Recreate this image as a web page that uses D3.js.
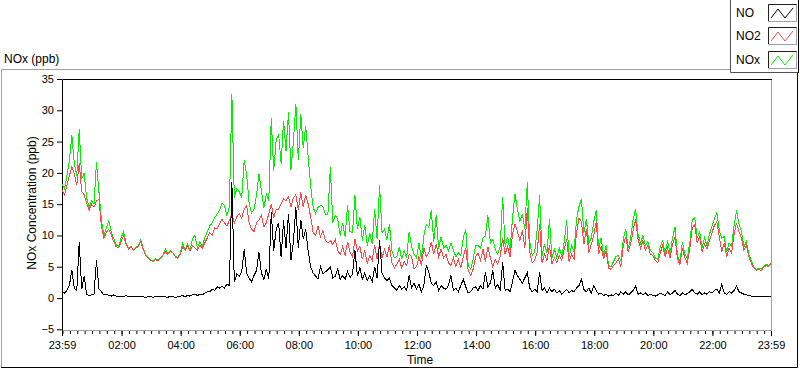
<!DOCTYPE html>
<html>
<head>
<meta charset="utf-8">
<script src="https://cdn.jsdelivr.net/npm/d3@7"></script>
<style>
  body { margin: 0; background: #fff; }
  svg { display: block; font-family: "Liberation Sans", Arial, sans-serif; }
</style>
</head>
<body>
<div id="chart"></div>
<script>
// 5-minute samples, 23:59 (previous day) to 23:59
const noValues = [
  1.0,0.8,1.2,2.0,4.5,1.5,1.2,9.0,1.4,3.5,0.6,0.4,
  0.5,0.6,6.0,1.5,1.0,0.5,0.6,0.4,0.3,0.5,0.3,0.2,
  0.3,0.2,0.4,0.2,0.3,0.3,0.2,0.3,0.3,0.2,0.1,0.2,
  0.2,0.1,0.3,0.2,0.2,0.3,0.2,0.1,0.3,0.2,0.1,0.2,
  0.3,0.4,0.2,0.4,0.3,0.5,0.6,0.4,0.6,0.5,0.8,1.0,
  1.0,1.4,1.2,1.8,1.6,1.9,1.6,2.2,2.0,18.5,2.5,3.8,
  3.5,4.2,7.8,4.0,3.2,2.6,3.6,4.4,7.3,4.0,3.0,4.6,
  3.0,13.7,7.5,11.0,12.0,6.5,12.4,8.0,13.5,6.0,9.0,14.5,
  8.0,12.5,9.5,11.0,7.5,5.0,4.0,3.5,3.0,5.0,3.8,4.2,
  4.5,5.0,3.2,3.5,4.6,3.0,3.6,3.0,4.2,3.3,3.8,7.6,
  3.5,4.8,3.0,4.0,2.8,3.6,2.6,5.0,3.2,9.2,4.0,3.2,
  2.8,3.2,2.0,1.6,1.2,2.0,1.4,1.8,1.2,3.6,1.6,2.4,
  1.4,2.2,1.0,2.0,5.2,4.1,2.4,2.0,2.6,1.2,2.0,1.6,
  1.4,2.0,3.6,1.2,1.6,1.0,2.0,3.0,1.8,0.8,1.0,1.6,
  1.8,1.2,2.0,1.4,4.1,1.8,2.4,4.4,1.6,2.2,1.2,5.7,
  1.2,1.4,1.0,2.6,4.4,3.6,3.0,2.4,3.2,4.0,1.6,1.0,
  1.4,1.0,4.1,1.2,1.6,0.8,1.6,1.0,1.4,0.8,1.2,0.6,
  1.0,1.4,0.8,1.2,1.0,1.6,2.0,3.0,1.4,1.0,1.6,0.8,
  1.9,1.2,0.6,0.8,0.4,0.6,0.3,0.5,0.4,0.8,0.4,1.0,
  0.6,1.0,0.5,0.8,1.2,1.9,0.6,0.8,0.5,0.8,0.4,0.6,
  0.4,0.3,0.5,0.8,0.6,0.4,1.0,0.5,0.8,1.2,0.6,0.4,
  0.8,0.5,0.7,1.0,1.4,0.8,0.6,1.0,0.5,0.8,0.6,1.0,
  0.8,1.2,1.4,0.8,2.2,0.8,0.6,1.0,0.8,1.2,1.9,1.0,
  0.8,0.6,0.5,0.4,0.3,0.2,0.3,0.2,0.3,0.2,0.3,0.2,
  0.3
];
const no2Values = [
  17.2,16.5,18.0,19.5,21.0,19.8,18.0,21.5,17.0,16.5,15.2,14.0,
  15.0,14.5,15.5,15.8,11.5,9.5,10.5,11.0,10.2,9.0,8.2,8.0,
  9.0,10.0,8.6,7.8,8.2,7.6,8.0,8.2,9.0,7.8,6.8,6.4,
  6.0,5.8,6.2,5.9,6.3,6.8,7.4,7.0,7.5,7.2,6.6,6.3,
  7.0,8.2,7.6,8.4,7.5,8.3,8.0,7.6,8.4,8.0,8.8,9.6,
  10.4,10.0,11.2,11.0,11.8,12.6,12.0,11.5,12.4,13.5,12.0,13.0,
  13.5,12.8,14.2,14.8,12.0,11.0,10.6,12.0,12.5,13.2,11.4,12.0,
  13.5,15.0,12.8,14.2,14.2,15.0,15.9,15.5,16.2,14.5,16.0,16.5,
  14.0,16.9,14.5,16.5,15.0,13.0,10.5,10.0,11.5,9.8,10.8,9.2,
  8.8,9.2,8.5,9.4,7.6,7.0,8.2,6.8,9.0,7.4,6.6,9.4,
  7.5,8.2,6.2,7.6,5.6,6.8,6.0,8.4,6.2,8.8,6.4,7.8,
  6.5,8.4,5.6,4.8,5.4,6.2,4.8,5.8,5.2,7.0,6.6,4.6,
  5.0,6.6,5.2,8.0,6.6,7.2,9.0,7.0,8.6,6.6,7.8,6.4,
  7.0,5.6,5.2,6.4,5.0,6.2,4.8,6.6,8.0,4.4,3.6,4.6,
  6.6,7.2,6.0,7.8,5.8,8.2,6.4,5.0,6.2,5.4,6.6,9.6,
  7.0,8.2,6.6,10.2,11.8,10.6,9.2,10.8,8.0,14.3,7.4,5.6,
  6.0,7.2,11.8,5.6,7.0,6.0,8.4,5.4,6.4,5.6,6.8,6.0,
  7.8,9.4,5.8,7.0,6.2,10.4,12.8,12.2,8.6,11.0,7.2,8.6,
  10.0,12.2,7.0,8.2,6.2,7.6,4.8,4.6,5.2,5.6,6.2,5.0,
  8.4,9.8,7.4,8.6,10.8,12.6,9.4,8.0,9.2,7.6,8.4,7.0,
  6.8,6.0,5.6,7.2,8.4,6.6,8.0,6.4,8.6,9.8,6.2,5.4,
  8.0,6.4,5.6,7.8,11.2,11.8,8.8,9.8,7.4,8.6,7.8,9.2,
  10.4,11.6,12.2,9.8,7.4,8.8,6.6,8.0,7.2,10.2,12.0,10.6,
  9.6,7.6,8.4,6.6,5.6,4.8,4.4,4.6,4.4,4.9,5.2,5.0,
  5.5
];
const noxValues = [
  18.2,17.5,19.5,22.0,26.0,21.5,19.5,27.0,19.0,20.0,16.0,14.5,
  15.5,15.0,21.7,17.0,12.5,10.0,11.2,12.4,10.5,9.5,8.5,8.2,
  9.6,10.6,8.8,7.9,8.3,7.7,8.1,8.3,9.3,7.9,6.9,6.5,
  6.1,5.9,6.3,6.0,6.4,6.9,7.8,7.1,7.6,7.3,6.7,6.4,
  7.1,8.7,7.7,8.6,7.6,9.5,10.0,8.0,9.0,8.3,9.6,10.6,
  11.5,12.0,12.8,13.4,14.0,15.2,14.8,13.2,14.6,32.6,16.0,17.5,
  17.0,16.0,22.0,19.8,15.2,13.6,14.2,16.4,19.8,17.2,14.4,16.6,
  15.5,28.7,20.3,25.2,26.2,21.5,28.3,23.5,29.7,20.5,25.0,31.0,
  22.0,29.4,24.0,27.5,22.5,18.0,14.5,13.5,14.5,14.8,14.6,13.4,
  13.3,20.9,12.0,13.2,12.6,10.0,12.0,9.8,14.8,10.6,10.4,16.4,
  11.0,13.0,9.2,11.6,8.4,10.4,8.6,14.2,9.4,18.0,10.4,11.0,
  9.3,11.8,7.6,6.4,6.6,8.2,6.2,7.6,6.4,10.6,8.2,7.0,
  6.4,8.8,6.2,10.0,11.8,11.3,14.0,9.0,13.2,7.8,9.8,8.0,
  8.4,7.6,8.8,7.6,6.6,7.2,6.8,9.6,11.0,5.2,4.6,6.2,
  8.4,8.4,8.0,9.6,9.9,13.2,8.8,9.4,7.8,7.0,8.2,16.1,
  8.2,9.8,7.6,12.8,16.6,14.2,12.2,13.4,11.0,18.5,9.0,6.8,
  7.4,10.8,16.4,6.8,8.6,7.2,12.6,6.4,7.8,6.4,8.0,6.6,
  9.0,12.4,6.6,8.4,7.4,12.6,14.6,15.8,10.4,12.6,8.8,9.6,
  12.2,14.0,7.8,9.6,6.8,8.4,5.2,5.0,5.8,6.6,6.8,6.0,
  9.4,11.0,8.0,9.6,12.6,14.2,10.2,8.8,10.0,8.4,9.0,7.6,
  7.2,6.4,6.2,8.2,9.2,7.0,9.2,7.0,9.6,11.3,6.8,5.8,
  8.9,7.0,6.4,8.8,12.4,12.9,9.6,10.6,8.0,9.6,8.4,10.2,
  11.4,12.6,13.7,10.8,9.6,9.8,7.4,8.8,8.2,11.6,14.0,11.8,
  10.6,8.2,9.0,7.0,6.0,5.0,4.6,4.8,4.6,5.0,5.4,5.2,
  5.6
];
const seriesNames = ["NO", "NO2", "NOx"];
const xTickLabels = ["23:59","02:00","04:00","06:00","08:00","10:00","12:00","14:00","16:00","18:00","20:00","22:00","23:59"];
const yTickValues = [-5, 0, 5, 10, 15, 20, 25, 30, 35];
const sampleMinutes = 5;

const colors = { NO: "#000000", NO2: "#ff4646", NOx: "#00f000" };

const W = 800, H = 369;
const plot = { left: 62, right: 771, top: 79, bottom: 329.3 };

const start = new Date(2000, 0, 1, 23, 59);
const end = new Date(2000, 0, 2, 23, 59);
const times = noValues.map((_, i) => new Date(start.getTime() + i * sampleMinutes * 60000));

const svg = d3.select("#chart").append("svg")
  .attr("width", W)
  .attr("height", H);

const x = d3.scaleTime().domain([start, end]).range([plot.left, plot.right]);
const y = d3.scaleLinear().domain([-5, 35]).range([plot.bottom, plot.top]);

// outer panel (sunken look)
svg.append("path").attr("d", `M1.5,367 V69.5 H797`).attr("fill", "none").attr("stroke", "#a0a0a0");
svg.append("path").attr("d", `M1,367.5 H797.5 V69`).attr("fill", "none").attr("stroke", "#000");

svg.append("text")
  .attr("x", 4).attr("y", 63)
  .attr("font-size", 12)
  .text("NOx (ppb)");

// plot frame
svg.append("path").attr("d", `M771.5,79 V330.5 H62`).attr("fill", "none").attr("stroke", "#a0a0a0");
svg.append("path").attr("d", `M62.5,331 V79.5 H772`).attr("fill", "none").attr("stroke", "#000");

// y axis
const yAxis = svg.append("g")
  .attr("transform", `translate(${plot.left},0)`)
  .call(d3.axisLeft(y).tickValues(yTickValues).tickSize(5).tickSizeOuter(0).tickPadding(3));
yAxis.select(".domain").remove();
yAxis.selectAll("text").attr("font-size", 11).attr("font-family", "Liberation Sans, Arial, sans-serif").attr("fill", "#000");

// x axis: minor ticks every 15 minutes, major labelled ticks
const parseTime = d3.timeParse("%H:%M");
const majorTimes = xTickLabels.map((s, i) => {
  const t = parseTime(s);
  return new Date(2000, 0, i === 0 ? 1 : 2, t.getHours(), t.getMinutes());
});
const minorTimes = d3.timeMinute.every(15).range(new Date(2000, 0, 2, 0, 0), end);

const xMinor = svg.append("g")
  .attr("transform", `translate(0,331)`)
  .call(d3.axisBottom(x).tickValues(minorTimes).tickSize(3).tickSizeOuter(0).tickFormat(""));
xMinor.select(".domain").remove();

const xAxis = svg.append("g")
  .attr("transform", `translate(0,331)`)
  .call(d3.axisBottom(x).tickValues(majorTimes).tickSize(5).tickSizeOuter(0).tickPadding(5)
    .tickFormat((d, i) => xTickLabels[i]));
xAxis.select(".domain").remove();
xAxis.selectAll("text").attr("font-size", 11).attr("font-family", "Liberation Sans, Arial, sans-serif").attr("fill", "#000");

svg.append("text")
  .attr("x", 420).attr("y", 364)
  .attr("text-anchor", "middle")
  .attr("font-size", 12)
  .text("Time");

svg.append("text")
  .attr("transform", "translate(32,203) rotate(-90)")
  .attr("text-anchor", "middle")
  .attr("dy", "0.35em")
  .attr("font-size", 12)
  .text("NOx Concentration (ppb)");

// series lines: NOx underneath, then NO2, NO on top
const line = d3.line()
  .x((d, i) => x(times[i]))
  .y(d => y(d));

[["NOx", noxValues], ["NO2", no2Values], ["NO", noValues]].forEach(([name, vals]) => {
  svg.append("path")
    .datum(vals)
    .attr("fill", "none")
    .attr("stroke", colors[name])
    .attr("stroke-width", 1)
    .attr("shape-rendering", "crispEdges")
    .attr("d", line);
});

// legend
const legend = svg.append("g");
legend.append("rect").attr("x", 730.5).attr("y", -1).attr("width", 68).attr("height", 73.5)
  .attr("fill", "#fff").attr("stroke", "none");
legend.append("path").attr("d", "M730.5,0 V72.5 H798").attr("fill", "none").attr("stroke", "#505050");
legend.append("path").attr("d", "M798.5,0 V73").attr("fill", "none").attr("stroke", "#000");

const legendRows = [4, 27, 51];
seriesNames.forEach((name, i) => {
  const top = legendRows[i];
  legend.append("text")
    .attr("x", 736).attr("y", top + 13)
    .attr("font-size", 12)
    .text(name);
  const g = legend.append("g").attr("transform", `translate(768,${top})`);
  g.append("rect").attr("x", 0.5).attr("y", 0.5).attr("width", 28).attr("height", 17)
    .attr("fill", "#fff").attr("stroke", "#a0a0a0");
  g.append("path").attr("d", "M0.5,17 V0.5 H28.5").attr("fill", "none").attr("stroke", "#202020");
  g.append("path")
    .attr("d", "M3,14 L10,5 L17,14 L25,4")
    .attr("fill", "none")
    .attr("stroke", colors[name])
    .attr("stroke-width", 1);
});
</script>
</body>
</html>
